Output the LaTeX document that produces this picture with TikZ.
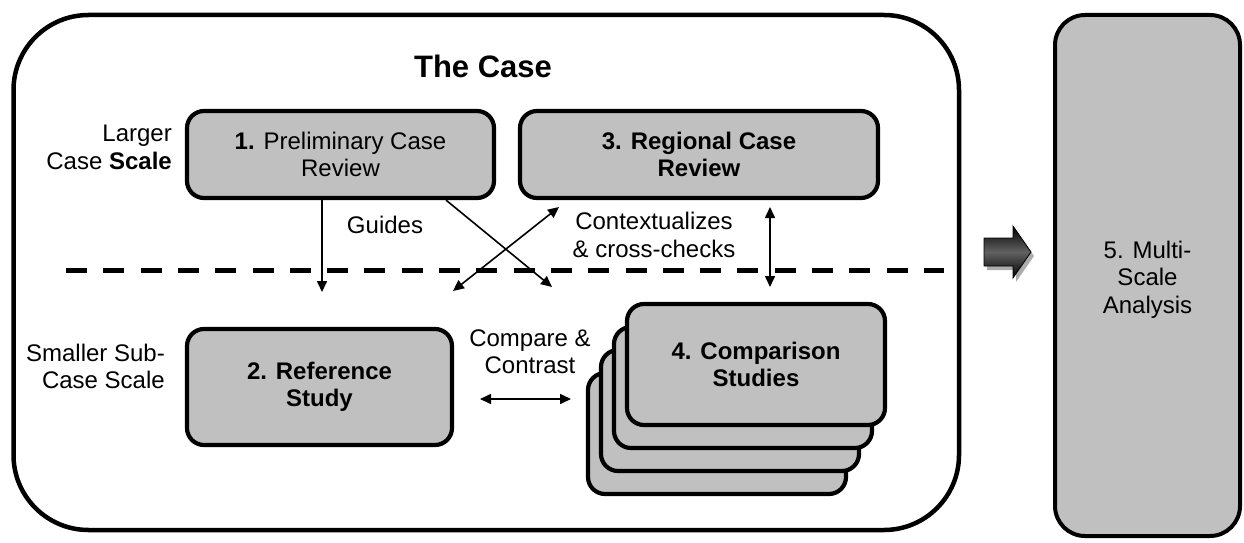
\documentclass[tikz,border=0pt]{standalone}
\usepackage{fontspec}
\setmainfont{Liberation Sans}
\usetikzlibrary{positioning,arrows.meta,calc,shadows}
\definecolor{boxgray}{RGB}{192,192,192}

\begin{document}
\begin{tikzpicture}[x=1pt,y=-1pt,
  stage/.style={draw,line width=4.2pt,fill=boxgray,rounded corners=17pt,align=center,inner sep=0pt,font=\fontsize{24}{27.5}\selectfont},
  stagebold/.style={stage,font=\fontsize{24}{27.5}\selectfont\bfseries},
  lbl/.style={align=center,inner sep=0pt,font=\fontsize{24}{27.5}\selectfont},
  link/.style={line width=1.6pt,-{Triangle[length=11pt,width=10pt]}},
  twoway/.style={line width=1.6pt,{Triangle[length=11pt,width=10pt]}-{Triangle[length=11pt,width=10pt]}}]
\useasboundingbox (0,0) rectangle (1244,543);
% the case frame and the scale divider
\draw[line width=4.5pt,rounded corners=75pt] (13.5,15) rectangle (959,530);
\node[font=\fontsize{31}{36}\selectfont\bfseries] (title) at (483,66) {The Case};
\draw[line width=5pt,dash pattern=on 21pt off 16.3pt] (66,270) -- (944,270);
% scale labels
\node[lbl,align=right,anchor=east] (larger) at (172,147.5) {Larger\\Case \textbf{Scale}};
\node[lbl,align=right,anchor=east] (smaller) at (165,366.5) {Smaller Sub-\\Case Scale};
% study steps
\node[stage,minimum width=307pt,minimum height=87pt] (prelim) at (340.5,154.5) {\textbf{1.} Preliminary Case\\Review};
\node[stagebold,minimum width=358pt,minimum height=87pt] (regional) at (699,154.5) {3. Regional Case\\Review};
\node[stagebold,minimum width=265pt,minimum height=116pt] (refstudy) at (319.5,387) {2. Reference\\Study};
\foreach \k in {3,2,1} {\node[stage,minimum width=258pt,minimum height=121pt] (cmp\k) at (756-13*\k,364.5+23*\k) {};}
\node[stagebold,minimum width=258pt,minimum height=121pt] (cmp) at (756,364.5) {4. Comparison\\Studies};
\node[stage,rounded corners=30pt,line width=4pt,minimum width=185pt,minimum height=521pt,
  label={[lbl,yshift=-4pt]center:5. Multi-\\Scale\\Analysis}] (multi) at (1147.5,275.5) {};
% connector labels
\node[lbl] (guides) at (385,225) {Guides};
\node[lbl] (context) at (654,235) {Contextualizes\\\& cross-checks};
\node[lbl] (compare) at (530,351.5) {Compare \&\\Contrast};
% connectors
\coordinate (guide-end) at (322,292);
\coordinate (cross-end) at (552,287);
\coordinate (ctx-a) at (453,291);
\coordinate (ctx-b) at (559,207);
\coordinate (chk-top) at (770,207);
\coordinate (chk-bot) at (770,287);
\coordinate (cmp-l) at (480,399);
\coordinate (cmp-r) at (571,399);
\draw[link] (prelim.south -| guide-end) -- (guide-end);
\draw[link] ([xshift=105.5pt]prelim.south) -- (cross-end);
\draw[twoway] (ctx-a) -- (ctx-b);
\draw[twoway] (chk-top) -- (chk-bot);
\draw[twoway] (cmp-l) -- (cmp-r);
% block arrow into the analysis
\shade[top color=black,bottom color=black,middle color=black!62,draw=black,line width=0.8pt,
  drop shadow={shadow xshift=3pt,shadow yshift=-4pt,fill=gray!65,opacity=1}]
  (984,238) -- (1013,238) -- (1013,226) -- (1031,252) -- (1013,278) -- (1013,266) -- (984,266) -- cycle;
\end{tikzpicture}
\end{document}
